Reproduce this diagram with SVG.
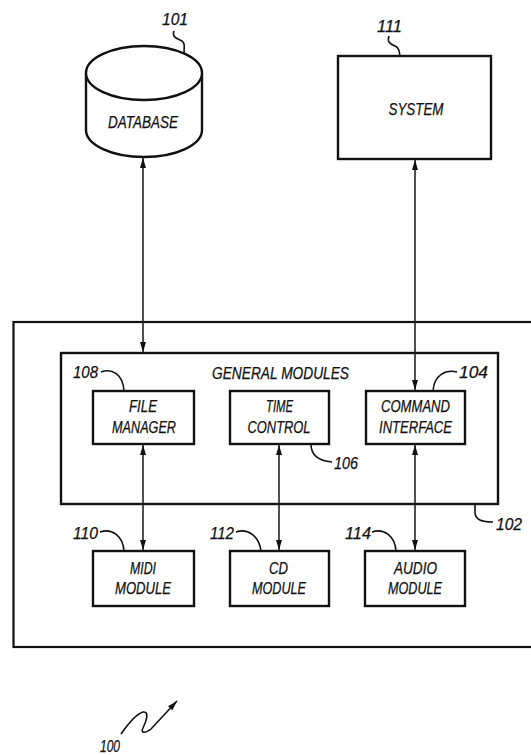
<svg xmlns="http://www.w3.org/2000/svg" width="531" height="755" viewBox="0 0 531 755">
<defs>
<style>
.box{fill:#fff;stroke:#111;stroke-width:2.4}
.frame{fill:none;stroke:#111;stroke-width:2.2}
.conn{fill:none;stroke:#222;stroke-width:1.6}
.lead{fill:none;stroke:#111;stroke-width:1.6}
text{font-family:"Liberation Sans",Arial,sans-serif;font-style:italic;fill:#111;stroke:#111;stroke-width:0.25}
.lbl{font-size:16px;text-anchor:middle}
.num{font-size:16px}
</style>
<marker id="ah" markerUnits="userSpaceOnUse" markerWidth="10" markerHeight="8" refX="10" refY="4" orient="auto-start-reverse">
<path d="M0,1 L10,4 L0,7 z" fill="#111"/>
</marker>
</defs>
<rect width="531" height="755" fill="#fff"/>

<g id="frame102">
<rect class="frame" x="13.5" y="322" width="540" height="325"/>
<path class="lead" d="M475,504 L475,512 C475,520 482,522 493,522"/>
<text class="num" x="496" y="530" textLength="26" lengthAdjust="spacingAndGlyphs">102</text>
</g>

<g id="general_modules">
<rect class="box" x="61" y="353" width="437" height="151"/>
<text x="280.5" y="379" class="lbl" textLength="137" lengthAdjust="spacingAndGlyphs">GENERAL  MODULES</text>
</g>

<g id="database">
<path class="box" d="M86,73 L86,130 A58,27 0 0 0 202,130 L202,73"/>
<ellipse class="box" cx="144" cy="73" rx="58" ry="27"/>
<text x="143" y="128" class="lbl" textLength="70" lengthAdjust="spacingAndGlyphs">DATABASE</text>
<path class="lead" d="M174,31 C172,36 175,38 180,40 C186,42 184,48 184,53"/>
<text class="num" x="162" y="25" textLength="26" lengthAdjust="spacingAndGlyphs">101</text>
</g>

<g id="system">
<rect class="box" x="338" y="56" width="153" height="103"/>
<text x="416" y="115" class="lbl" textLength="55" lengthAdjust="spacingAndGlyphs">SYSTEM</text>
<path class="lead" d="M389,36 C387,42 390,44 395,46 C400,48 399,52 400,56"/>
<text class="num" x="377" y="32" textLength="25" lengthAdjust="spacingAndGlyphs">111</text>
</g>

<g id="file_manager">
<rect class="box" x="93" y="391" width="101" height="53"/>
<text x="143" y="412" class="lbl" textLength="28" lengthAdjust="spacingAndGlyphs">FILE</text>
<text x="144" y="433" class="lbl" textLength="64" lengthAdjust="spacingAndGlyphs">MANAGER</text>
<path class="lead" d="M101,372 C112,368 123,374 124,391"/>
<text class="num" x="73" y="378" textLength="25" lengthAdjust="spacingAndGlyphs">108</text>
</g>

<g id="time_control">
<rect class="box" x="230" y="391" width="99" height="53"/>
<text x="279.5" y="412" class="lbl" textLength="27" lengthAdjust="spacingAndGlyphs">TIME</text>
<text x="279" y="433" class="lbl" textLength="63" lengthAdjust="spacingAndGlyphs">CONTROL</text>
<path class="lead" d="M311,444 C311,456 320,461 332,462"/>
<text class="num" x="334" y="469" textLength="24" lengthAdjust="spacingAndGlyphs">106</text>
</g>

<g id="command_interface">
<rect class="box" x="366" y="391" width="99" height="53"/>
<text x="415.5" y="412" class="lbl" textLength="69" lengthAdjust="spacingAndGlyphs">COMMAND</text>
<text x="415.5" y="433" class="lbl" textLength="73" lengthAdjust="spacingAndGlyphs">INTERFACE</text>
<path class="lead" d="M457,372 C446,369 434,375 433,391"/>
<text class="num" x="459" y="378" textLength="29" lengthAdjust="spacingAndGlyphs">104</text>
</g>

<g id="midi_module">
<rect class="box" x="93" y="551" width="101" height="55"/>
<text x="143" y="574" class="lbl" textLength="26" lengthAdjust="spacingAndGlyphs">MIDI</text>
<text x="143" y="594" class="lbl" textLength="56" lengthAdjust="spacingAndGlyphs">MODULE</text>
<path class="lead" d="M100,532 C112,528 123,536 124,551"/>
<text class="num" x="73" y="539" textLength="25" lengthAdjust="spacingAndGlyphs">110</text>
</g>

<g id="cd_module">
<rect class="box" x="230" y="551" width="99" height="55"/>
<text x="278.5" y="574" class="lbl" textLength="19" lengthAdjust="spacingAndGlyphs">CD</text>
<text x="279" y="594" class="lbl" textLength="54" lengthAdjust="spacingAndGlyphs">MODULE</text>
<path class="lead" d="M236,532 C248,528 259,536 261,551"/>
<text class="num" x="210" y="539" textLength="24" lengthAdjust="spacingAndGlyphs">112</text>
</g>

<g id="audio_module">
<rect class="box" x="365" y="551" width="100" height="55"/>
<text x="415.5" y="574" class="lbl" textLength="43" lengthAdjust="spacingAndGlyphs">AUDIO</text>
<text x="415" y="594" class="lbl" textLength="54" lengthAdjust="spacingAndGlyphs">MODULE</text>
<path class="lead" d="M372,532 C384,528 395,536 396,551"/>
<text class="num" x="345" y="539" textLength="26" lengthAdjust="spacingAndGlyphs">114</text>
</g>

<g id="ref100">
<path class="lead" stroke-width="2" d="M121,734 C128,724 136,714 143,712 C150,711 146,722 143,728 C140,734 146,733 151,729 L177,701" marker-end="url(#ah)"/>
<text class="num" x="100" y="752" textLength="20" lengthAdjust="spacingAndGlyphs">100</text>
</g>

<g id="connectors">
<line class="conn" x1="143" y1="158" x2="143" y2="352" marker-start="url(#ah)" marker-end="url(#ah)"/>
<line class="conn" x1="415" y1="160" x2="415" y2="390" marker-start="url(#ah)" marker-end="url(#ah)"/>
<line class="conn" x1="143" y1="445" x2="143" y2="550" marker-start="url(#ah)" marker-end="url(#ah)"/>
<line class="conn" x1="279" y1="445" x2="279" y2="550" marker-start="url(#ah)" marker-end="url(#ah)"/>
<line class="conn" x1="415" y1="445" x2="415" y2="550" marker-start="url(#ah)" marker-end="url(#ah)"/>
</g>
</svg>
